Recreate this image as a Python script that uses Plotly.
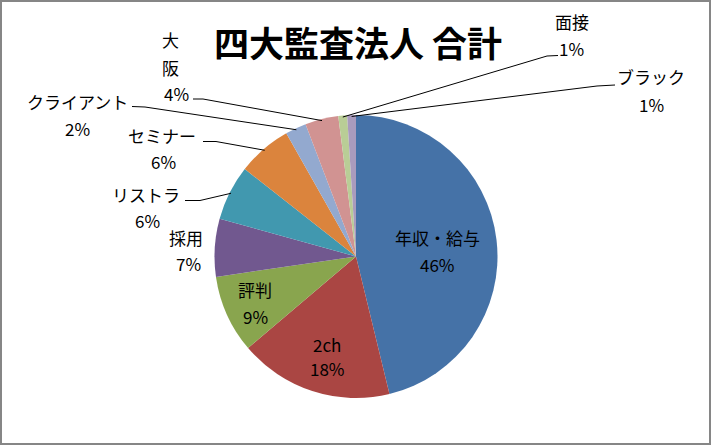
import math
import plotly.graph_objects as go

# ---- data ----
labels = ["年収・給与", "2ch", "評判", "採用", "リストラ", "セミナー",
          "クライアント", "大阪", "面接", "ブラック"]
values = [46.2, 17.6, 8.9, 6.6, 6.3, 6.2, 2.4, 3.8, 1.0, 1.0]
colors = ["#4572A7", "#AA4643", "#89A54E", "#71588F", "#4198AF",
          "#DB843D", "#93A9CF", "#D19392", "#B9CD96", "#A99BBD"]
title = "四大監査法人 合計"

W, H = 711, 445
CX, CY, R = 356.0, 256.5, 141.5   # pie centre / radius in px


def px(x):
    return x / W


def py(y):
    return 1 - y / H


# label placement (px): name line centre, percent line centre
name_pos = {
    "年収・給与": (437, 237), "2ch": (327, 344), "評判": (255, 289),
    "採用": (186, 237), "リストラ": (146, 195), "セミナー": (162, 135),
    "クライアント": (77, 102), "面接": (572, 22), "ブラック": (651, 77),
}
pct_pos = {
    "年収・給与": (437, 264), "2ch": (327, 368), "評判": (255, 316),
    "採用": (188, 263), "リストラ": (147, 220), "セミナー": (163, 161),
    "クライアント": (77, 128), "大阪": (176, 94), "面接": (571, 49),
    "ブラック": (651, 104),
}
# leader line: (label-side start, elbow)
leaders = {
    "リストラ": ((185, 200.5), (200, 200.5)),
    "セミナー": ((203, 141.5), (216, 141.5)),
    "クライアント": ((132, 106.5), (145, 107)),
    "大阪": ((193, 99), (203, 99)),
    "面接": ((558, 55.5), (547, 56)),
    "ブラック": ((615, 85), (597, 86)),
}

fig = go.Figure(go.Pie(
    labels=labels, values=values, sort=False, direction="clockwise",
    rotation=0, marker=dict(colors=colors, line=dict(width=0)),
    textinfo="none", hoverinfo="label+percent", showlegend=False,
    domain=dict(x=[px(CX - R), px(CX + R)], y=[py(CY + R), py(CY - R)]),
))

font = dict(family="Noto Sans CJK JP", size=17, color="#000000")


def label(x, y, text, f=font):
    return dict(x=px(x), y=py(y), text=text, showarrow=False,
                xref="paper", yref="paper", xanchor="center",
                yanchor="middle", font=f)


ann = []
shapes = []
total = sum(values)
cum = 0.0
for lab, v in zip(labels, values):
    mid = (cum + v / 2) / total * 2 * math.pi
    cum += v
    pct = f"{round(v / total * 100)}%"
    if lab == "大阪":
        for ch, yy in zip(lab, (39, 68)):
            ann.append(label(170, yy, ch))
    else:
        nx, ny = name_pos[lab]
        ann.append(label(nx, ny, lab))
    qx, qy = pct_pos[lab]
    ann.append(label(qx, qy, pct))
    if lab in leaders:
        (sx, sy), (ex, ey) = leaders[lab]
        tx = CX + R * 0.99 * math.sin(mid)
        ty = CY - R * 0.99 * math.cos(mid)
        for (a, b), (c, d) in (((sx, sy), (ex, ey)), ((ex, ey), (tx, ty))):
            shapes.append(dict(type="line", xref="paper", yref="paper",
                               x0=px(a), y0=py(b), x1=px(c), y1=py(d),
                               line=dict(color="#000000", width=1)))

ann.append(label(357.5, 41.5, f"<b>{title}</b>",
                 dict(family="Noto Sans CJK JP", size=35, color="#000000")))

shapes.append(dict(type="rect", xref="paper", yref="paper", x0=0, y0=0,
                   x1=1, y1=1, line=dict(color="#868686", width=4),
                   fillcolor="rgba(0,0,0,0)"))

fig.update_layout(
    width=W, height=H, margin=dict(l=0, r=0, t=0, b=0),
    paper_bgcolor="white", plot_bgcolor="white",
    annotations=ann, shapes=shapes,
)
fig.write_html("out.html", config={"displayModeBar": False},
               post_script="document.body.style.margin='0';"
                           "document.body.style.overflow='hidden';")
